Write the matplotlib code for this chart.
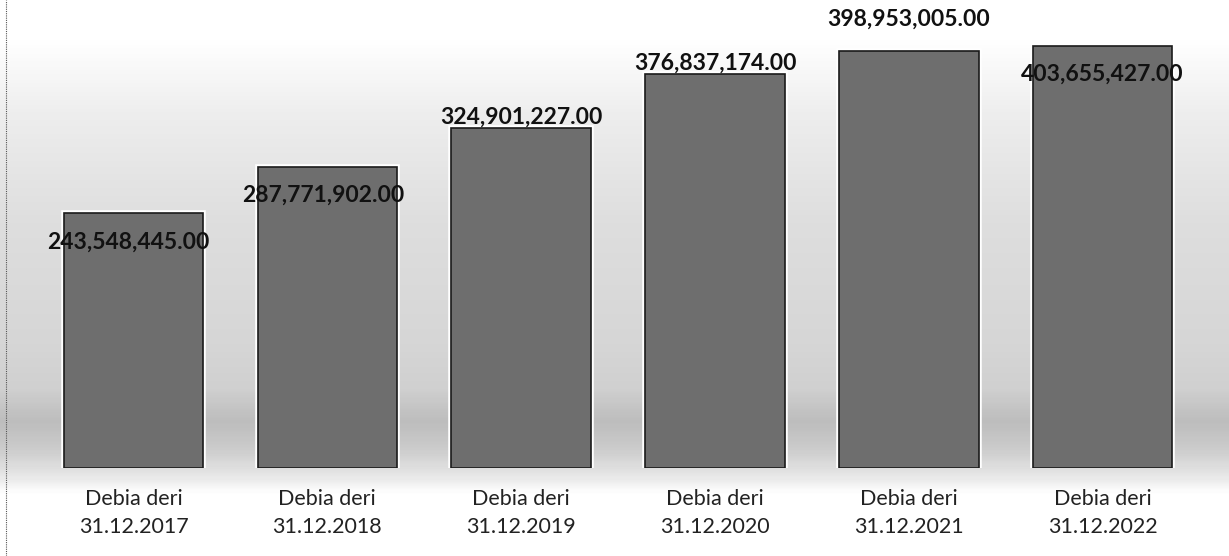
import numpy as np
import matplotlib.pyplot as plt
import matplotlib.patheffects as pe
from matplotlib.colors import LinearSegmentedColormap

categories = ['Debia deri\n31.12.2017', 'Debia deri\n31.12.2018', 'Debia deri\n31.12.2019',
              'Debia deri\n31.12.2020', 'Debia deri\n31.12.2021', 'Debia deri\n31.12.2022']
values = [243548445.00, 287771902.00, 324901227.00, 376837174.00, 398953005.00, 403655427.00]

# label offsets from bar top (points), the original places them irregularly
label_dy = [-21, -20, 8, 8, 23, -20]
label_dx = [-4, -3, 0, 0, 0, 0]

plt.rcParams['font.family'] = ['Lato', 'DejaVu Sans']

fig = plt.figure(figsize=(12.29, 5.56), dpi=100)

# scanned grey background with a darker band behind the bars
bg = fig.add_axes([0, 0, 1, 1], zorder=0)
bg.set_axis_off()
grad = LinearSegmentedColormap.from_list('bg', [
    (0.0, '#ffffff'), (0.07, '#ffffff'), (0.2, '#eeeeee'), (0.4, '#dedede'),
    (0.62, '#d6d6d6'), (0.7, '#d0d0d0'), (0.76, '#bdbdbd'), (0.81, '#cccccc'),
    (0.86, '#e8e8e8'), (0.89, '#ffffff'), (1.0, '#ffffff')])
bg.imshow(np.linspace(0, 1, 300).reshape(-1, 1), cmap=grad, aspect='auto',
          extent=[0, 1, 0, 1], origin='upper')
bg.plot([0.005, 0.005], [0, 1], color='#555555', lw=0.8, ls=(0, (1, 1)))
bg.set_xlim(0, 1)
bg.set_ylim(0, 1)

ax = fig.add_axes([36.6 / 1229, 88 / 556, 1163 / 1229, 460 / 556], zorder=1)
ax.patch.set_alpha(0)
x = np.arange(len(categories))
bars = ax.bar(x, values, width=0.72, color='#6e6e6e', edgecolor='#1a1a1a', linewidth=1.2)
for b in bars:
    b.set_path_effects([pe.Stroke(linewidth=4, foreground='white'), pe.Normal()])

for b, v, dx, dy in zip(bars, values, label_dx, label_dy):
    ax.annotate(f'{v:,.2f}', (b.get_x() + b.get_width() / 2, v),
                xytext=(dx, dy), textcoords='offset points',
                ha='center', va='center', fontsize=16.5, fontweight='bold', color='#111111')

ax.set_xlim(-0.5, len(categories) - 0.5)
ax.set_ylim(0, 440e6)
ax.set_xticks(x)
ax.set_xticklabels(categories, fontsize=15.5, color='#222222', linespacing=1.5)
ax.tick_params(axis='x', length=0, pad=15)
ax.set_yticks([])
for s in ax.spines.values():
    s.set_visible(False)

fig.savefig('out.png', dpi=100)
